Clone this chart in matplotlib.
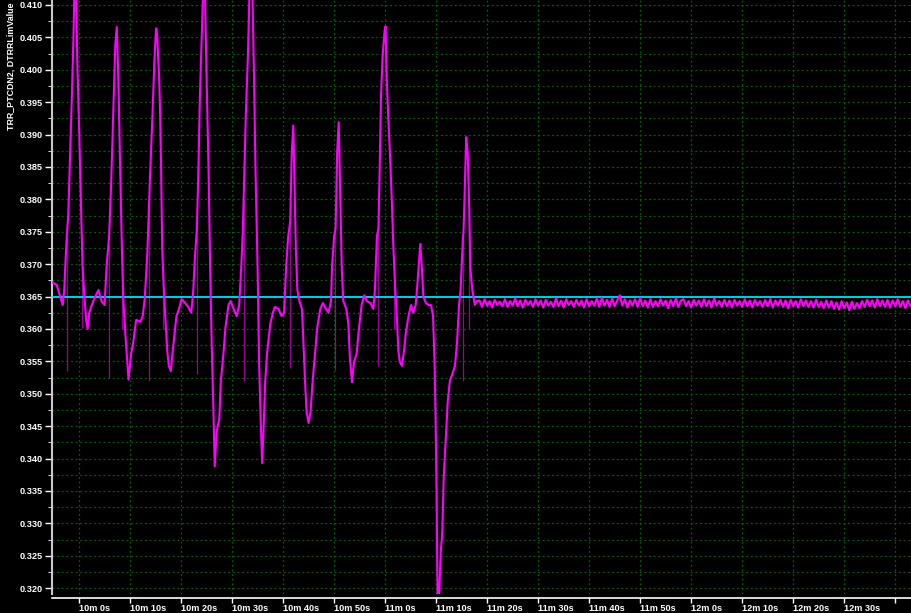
import numpy as np
import matplotlib
matplotlib.use("Agg")
import matplotlib.pyplot as plt
from matplotlib.ticker import MultipleLocator, FormatStrFormatter

# time in seconds relative to 10m 0s
active_t = [-5.3, -4.4, -3.9, -3.2, -2.9, -2.5, -2.1, -1.8, -1.4, -1.1, -0.9, -0.6, -0.3, 0.05, 0.4, 0.7,
            1.05, 1.4, 1.7, 2.0, 2.5, 3.1, 3.8, 4.4, 5.0, 5.4, 5.9, 6.3, 6.7, 7.1, 7.4, 7.7, 8.0, 8.4,
            8.7, 9.1, 9.5, 9.7, 10.2, 10.6, 11.2, 12.0, 12.5, 12.9, 13.4, 13.9, 14.4, 14.8, 15.1, 15.3,
            15.7, 15.9, 16.1, 16.3, 16.6, 16.9, 17.3, 17.6, 18.0, 18.3, 18.7, 19.1, 19.6, 20.1, 20.8,
            21.4, 22.0, 22.4, 22.7, 23.1, 23.4, 23.7, 24.1, 24.3, 24.7, 25.0, 25.4, 25.7, 26.0, 26.3,
            26.6, 27.0, 27.5, 27.8, 28.3, 28.7, 29.3, 29.7, 30.3, 30.9, 31.4, 31.8, 32.1, 32.4, 32.7,
            33.1, 33.4, 34.0, 34.3, 34.6, 35.0, 35.3, 35.6, 35.9, 36.2, 36.5, 36.9, 37.5, 38.0, 38.4,
            39.1, 39.7, 40.2, 40.6, 41.0, 41.4, 41.7, 42.0, 42.2, 42.5, 42.8, 43.2, 43.7, 44.0, 44.3,
            44.6, 45.0, 45.4, 45.8, 46.3, 46.7, 47.3, 47.8, 48.4, 48.9, 49.4, 49.6, 50.0, 50.3, 50.6,
            50.9, 51.2, 51.5, 51.8, 52.4, 52.8, 53.1, 53.5, 53.9, 54.4, 54.9, 55.4, 55.9, 56.4, 57.1,
            57.7, 58.0, 58.4, 58.7, 59.0, 59.2, 59.5, 59.9, 60.1, 60.3, 60.6, 61.0, 61.3, 61.6, 62.0,
            62.3, 62.6, 62.9, 63.3, 63.7, 64.1, 64.6, 65.1, 65.5, 66.0, 66.3, 66.7, 66.9, 67.2, 67.5,
            68.0, 68.5, 69.0, 69.4, 69.7, 69.9, 70.1, 70.2, 70.3, 70.6, 70.9, 71.2, 71.5, 71.9, 72.3,
            72.7, 73.2, 73.7, 74.1, 74.5, 74.8, 75.2, 75.4, 75.7, 75.9, 76.2, 76.5, 76.7, 77.1, 77.6,
            78.0]
active_v = [0.3672, 0.3668, 0.3655, 0.3637, 0.3660, 0.3730, 0.3778, 0.3855, 0.3960, 0.4049, 0.4125,
            0.4120, 0.4000, 0.3900, 0.3784, 0.3696, 0.3650, 0.3614, 0.3600, 0.3625, 0.3637, 0.3649,
            0.3660, 0.3643, 0.3637, 0.3696, 0.3743, 0.3825, 0.3931, 0.4037, 0.4066, 0.3990, 0.3872,
            0.3725, 0.3643, 0.3590, 0.3543, 0.3522, 0.3561, 0.3578, 0.3614, 0.3611, 0.3620, 0.3649,
            0.3719, 0.3831, 0.3931, 0.4019, 0.4064, 0.4055, 0.3990, 0.3931, 0.3843, 0.3725, 0.3666,
            0.3620, 0.3566, 0.3543, 0.3535, 0.3561, 0.3590, 0.3620, 0.3631, 0.3646, 0.3640, 0.3634,
            0.3625, 0.3660, 0.3708, 0.3755, 0.3843, 0.3960, 0.4060, 0.4115, 0.4115, 0.3990, 0.3843,
            0.3696, 0.3578, 0.3490, 0.3388, 0.3443, 0.3461, 0.3520, 0.3561, 0.3602, 0.3637, 0.3643,
            0.3631, 0.3620, 0.3637, 0.3696, 0.3749, 0.3843, 0.3931, 0.4019, 0.4115, 0.4115, 0.3990,
            0.3843, 0.3696, 0.3549, 0.3461, 0.3393, 0.3450, 0.3520, 0.3566, 0.3608, 0.3625, 0.3634,
            0.3631, 0.3620, 0.3625, 0.3696, 0.3743, 0.3766, 0.3872, 0.3914, 0.3843, 0.3725, 0.3660,
            0.3643, 0.3631, 0.3578, 0.3520, 0.3473, 0.3455, 0.3473, 0.3520, 0.3566, 0.3602, 0.3631,
            0.3640, 0.3631, 0.3625, 0.3643, 0.3696, 0.3743, 0.3755, 0.3872, 0.3919, 0.3813, 0.3696,
            0.3643, 0.3631, 0.3608, 0.3555, 0.3518, 0.3549, 0.3561, 0.3602, 0.3637, 0.3652, 0.3643,
            0.3640, 0.3631, 0.3660, 0.3743, 0.3755, 0.3872, 0.3960, 0.4019, 0.4060, 0.4067, 0.3990,
            0.3931, 0.3861, 0.3802, 0.3731, 0.3660, 0.3620, 0.3566, 0.3549, 0.3543, 0.3566, 0.3596,
            0.3620, 0.3637, 0.3625, 0.3637, 0.3666, 0.3708, 0.3731, 0.3696, 0.3650, 0.3640, 0.3637,
            0.3637, 0.3620, 0.3549, 0.3461, 0.3343, 0.3255, 0.3190, 0.3188, 0.3255, 0.3284, 0.3372,
            0.3431, 0.3490, 0.3520, 0.3531, 0.3543, 0.3578, 0.3637, 0.3660, 0.3731, 0.3755, 0.3843,
            0.3896, 0.3872, 0.3784, 0.3696, 0.3660, 0.3637, 0.3643]

# settled part, one reading every half second from 78.5 s
flat_start = 78.5
flat_step = 0.5
flat_v = [0.3644, 0.3634, 0.3646, 0.3636, 0.3643, 0.3633, 0.3645, 0.3637, 0.3642, 0.3635,
          0.3646, 0.3634, 0.3643, 0.3636, 0.3647, 0.3635, 0.3644, 0.3633, 0.3645, 0.3637,
          0.3643, 0.3634, 0.3646, 0.3636, 0.3644, 0.3633, 0.3645, 0.3636, 0.3642, 0.3634,
          0.3647, 0.3635, 0.3644, 0.3633, 0.3646, 0.3637, 0.3643, 0.3634, 0.3645, 0.3636,
          0.3644, 0.3633, 0.3646, 0.3635, 0.3643, 0.3636, 0.3647, 0.3634, 0.3648, 0.3636,
          0.3645, 0.3634, 0.3647, 0.3635, 0.3644, 0.3652, 0.3636, 0.3646, 0.3633, 0.3644,
          0.3636, 0.3646, 0.3634, 0.3648, 0.3635, 0.3644, 0.3633, 0.3646, 0.3634, 0.3643,
          0.3635, 0.3646, 0.3636, 0.3644, 0.3632, 0.3645, 0.3635, 0.3647, 0.3634, 0.3644,
          0.3646, 0.3635, 0.3643, 0.3633, 0.3645, 0.3636, 0.3644, 0.3634, 0.3646, 0.3635,
          0.3644, 0.3633, 0.3647, 0.3636, 0.3643, 0.3634, 0.3645, 0.3635, 0.3644, 0.3633,
          0.3645, 0.3636, 0.3643, 0.3634, 0.3646, 0.3635, 0.3644, 0.3633, 0.3645, 0.3636,
          0.3643, 0.3634, 0.3645, 0.3635, 0.3646, 0.3633, 0.3644, 0.3636, 0.3645, 0.3634,
          0.3644, 0.3632, 0.3645, 0.3635, 0.3643, 0.3633, 0.3646, 0.3635, 0.3644, 0.3634,
          0.3643, 0.3633, 0.3645, 0.3634, 0.3642, 0.3632, 0.3644, 0.3633, 0.3643, 0.3631,
          0.3641, 0.3630, 0.3643, 0.3632, 0.3641, 0.3629, 0.3642, 0.3631, 0.3640, 0.3632,
          0.3643, 0.3634, 0.3645, 0.3635, 0.3644, 0.3633, 0.3646, 0.3635, 0.3644, 0.3634,
          0.3645, 0.3633, 0.3644, 0.3635, 0.3646, 0.3634, 0.3643, 0.3632, 0.3644, 0.3635]

# thin single-sample glitches (darker trace)
spike_t = [-2.3, 0.6, 5.8, 8.4, 13.8, 16.4, 23.2, 32.3, 41.4, 50.2, 58.7, 61.8, 75.3, 76.5]
spike_top = [0.3740, 0.3720, 0.3730, 0.3725, 0.3800, 0.3700, 0.3760, 0.3800, 0.3766, 0.3750,
             0.3755, 0.3700, 0.3740, 0.3780]
spike_bottom = [0.3535, 0.3602, 0.3525, 0.3600, 0.3520, 0.3600, 0.3531, 0.3520, 0.3540, 0.3537,
                0.3543, 0.3600, 0.3520, 0.3600]

limit_value = 0.365
y_label = "TRR_PTCDN2, DTRRLimValue"

xtick_secs = [600, 610, 620, 630, 640, 650, 660, 670, 680, 690, 700, 710, 720, 730, 740, 750, 760]
xtick_labels = ["10m 0s", "10m 10s", "10m 20s", "10m 30s", "10m 40s", "10m 50s", "11m 0s",
                "11m 10s", "11m 20s", "11m 30s", "11m 40s", "11m 50s", "12m 0s", "12m 10s",
                "12m 20s", "12m 30s", ""]

t0 = 600
font = "Liberation Sans"
grid_col = "#0a5c0a"

fig = plt.figure(figsize=(9.11, 6.13), dpi=100, facecolor="black")
ax = fig.add_axes([52 / 911, 19 / 613, 859 / 911, 594 / 613])
ax.set_facecolor("black")

ax.set_xlim(594.7, 763.1)
ax.set_ylim(0.3191, 0.41077)

ax.axhline(limit_value, color="#00e0f0", lw=1.3, zorder=3)

flat_t = flat_start + flat_step * np.arange(len(flat_v))
all_t = np.concatenate([np.array(active_t), flat_t]) + t0
all_v = np.concatenate([np.array(active_v), np.array(flat_v)])
ax.vlines(np.array(spike_t) + t0, spike_bottom, spike_top, color="#9a009a", lw=0.9, zorder=2)
ax.plot(all_t, all_v, color="#ff00ff", lw=1.5, zorder=4)

# grid
ax.grid(which="both", axis="y", color=grid_col, lw=0.9, linestyle=(0, (1.5, 2.2)))
ax.grid(which="major", axis="x", color=grid_col, lw=0.9, linestyle=(0, (1.5, 2.2)))

# ticks
ax.yaxis.set_major_locator(MultipleLocator(0.005))
ax.yaxis.set_minor_locator(MultipleLocator(0.0025))
ax.yaxis.set_major_formatter(FormatStrFormatter("%.3f"))
ax.tick_params(axis="both", colors="white", labelcolor="white", labelsize=6.6, width=1)
ax.tick_params(axis="y", which="major", length=5, pad=1.5)
ax.tick_params(axis="y", which="minor", length=3, color="white")
ax.tick_params(axis="x", which="major", length=3.5, pad=1)
ax.set_xticks(xtick_secs, labels=xtick_labels)

for side in ["top", "right"]:
    ax.spines[side].set_visible(False)
ax.spines["left"].set_color("#c8c8c8")
ax.spines["left"].set_linewidth(1.5)
ax.spines["bottom"].set_color("white")
ax.spines["bottom"].set_linewidth(1.2)
ax.spines["bottom"].set_position(("outward", 3))

fig.text(11 / 911, 1 - 3 / 613, y_label, rotation=90, ha="center", va="top",
         color="white", fontsize=6.4, fontweight="bold", family=font)

fig.canvas.draw()
for lab in ax.get_xticklabels() + ax.get_yticklabels():
    lab.set_fontweight("bold")
    lab.set_fontfamily(font)
for lab in ax.get_xticklabels():
    lab.set_horizontalalignment("left")

fig.savefig("out.png", dpi=100, facecolor="black")
